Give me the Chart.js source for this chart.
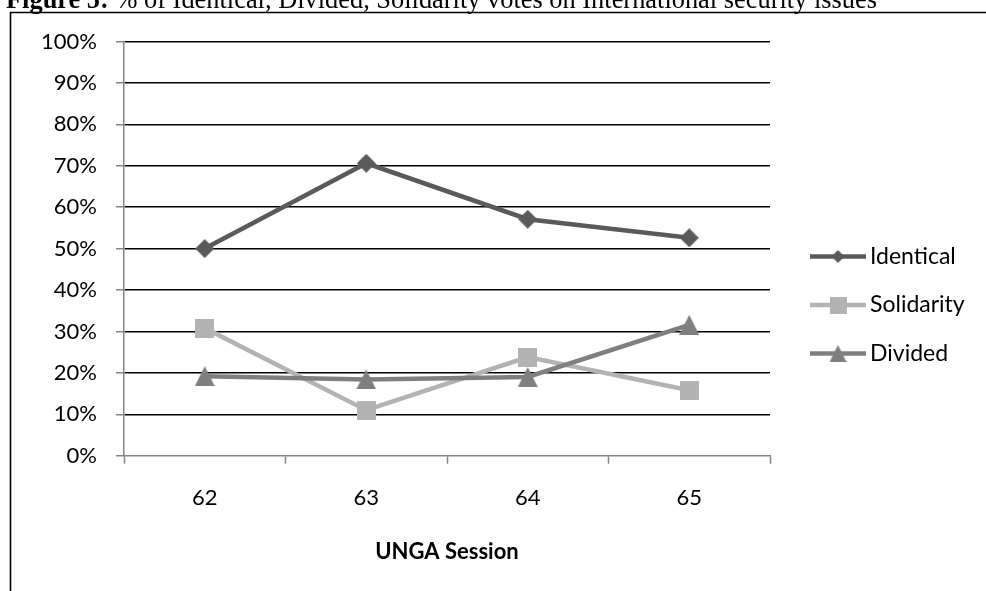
<!DOCTYPE html>
<html>
<head>
<meta charset="utf-8">
<script src="https://cdn.jsdelivr.net/npm/chart.js@4.4.1/dist/chart.umd.min.js"></script>
<style>
  html, body { margin: 0; padding: 0; background: #fff; }
  #wrap { position: relative; width: 986px; height: 591px; overflow: hidden; }
</style>
</head>
<body>
<div id="wrap"><canvas id="c" width="986" height="591"></canvas></div>
<script>
// Share of votes per UNGA session (percent)
const sessions   = ['62', '63', '64', '65'];
const identical  = [50.0, 70.6, 57.1, 52.6];
const solidarity = [30.8, 11.0, 23.8, 15.8];
const divided    = [19.2, 18.4, 19.0, 31.6];
const seriesNames = ['Identical', 'Solidarity', 'Divided'];

const titleBold = 'Figure 5:';
const titleRest = ' % of Identical, Divided, Solidarity votes on International security issues';
const xAxisTitle = 'UNGA Session';

const FONT = 'Lato, "Noto Sans", sans-serif';
const LABEL_SIZE = 22;
const TITLE_FONT = '"Liberation Serif", "Times New Roman", serif';
const TITLE_SIZE = 26.4;

// Marker glyphs drawn once on small canvases, used as point styles
function marker(shape, fill, s) {
  const c = document.createElement('canvas');
  c.width = s; c.height = s;
  const g = c.getContext('2d');
  g.fillStyle = fill;
  g.beginPath();
  if (shape === 'diamond') {
    g.moveTo(s / 2, 0); g.lineTo(s, s / 2); g.lineTo(s / 2, s); g.lineTo(0, s / 2);
  } else if (shape === 'square') {
    g.rect(0, 0, s, s);
  } else {
    g.moveTo(s / 2, 0); g.lineTo(s, s); g.lineTo(0, s);
  }
  g.closePath();
  g.fill();
  return c;
}

const colors = ['#5a5a5a', '#b3b3b3', '#7f7f7f'];
const plotMarkers = [
  marker('diamond', colors[0], 19),
  marker('square', colors[1], 19),
  marker('triangle', colors[2], 20)
];
const legendMarkers = [
  marker('diamond', colors[0], 13),
  marker('square', colors[1], 17),
  marker('triangle', colors[2], 17)
];

// Page frame and caption above the chart
const framePlugin = {
  id: 'frame',
  beforeDraw(chart) {
    const ctx = chart.ctx;
    ctx.save();
    ctx.fillStyle = '#fff';
    ctx.fillRect(0, 0, chart.width, chart.height);
    ctx.strokeStyle = '#000';
    ctx.lineWidth = 1.6;
    ctx.beginPath();
    ctx.moveTo(10.5, chart.height + 2);
    ctx.lineTo(10.5, 12.5);
    ctx.lineTo(chart.width + 2, 12.5);
    ctx.stroke();

    ctx.fillStyle = '#000';
    ctx.textBaseline = 'alphabetic';
    ctx.textAlign = 'left';
    ctx.font = 'bold ' + TITLE_SIZE + 'px ' + TITLE_FONT;
    ctx.fillText(titleBold, 6, 8);
    const w = ctx.measureText(titleBold).width;
    ctx.font = TITLE_SIZE + 'px ' + TITLE_FONT;
    ctx.fillText(titleRest, 6 + w, 8);
    ctx.restore();
  }
};

// Legend: line segment with centred marker, then the series name
const legendPlugin = {
  id: 'lineLegend',
  afterDraw(chart) {
    const ctx = chart.ctx;
    ctx.save();
    chart.data.datasets.forEach((ds, i) => {
      const y = 256.5 + i * 48.5;
      ctx.strokeStyle = ds.borderColor;
      ctx.lineWidth = 4.5;
      ctx.beginPath();
      ctx.moveTo(810, y);
      ctx.lineTo(866, y);
      ctx.stroke();
      const m = legendMarkers[i];
      ctx.drawImage(m, 838 - m.width / 2, y - m.height / 2);
      ctx.fillStyle = '#000';
      ctx.font = '23px ' + FONT;
      ctx.textBaseline = 'middle';
      ctx.textAlign = 'left';
      ctx.fillText(ds.label, 870, y);
    });
    ctx.restore();
  }
};

const values = [identical, solidarity, divided];

new Chart(document.getElementById('c'), {
  type: 'line',
  data: {
    labels: sessions,
    datasets: values.map((v, i) => ({
      label: seriesNames[i],
      data: v,
      borderColor: colors[i],
      backgroundColor: colors[i],
      borderWidth: 4.5,
      tension: 0,
      fill: false,
      pointStyle: plotMarkers[i],
      pointRadius: 8,
      pointHoverRadius: 8,
      order: 3 - i
    }))
  },
  options: {
    responsive: false,
    animation: false,
    events: [],
    layout: { padding: { left: 10, right: 216, top: 41.5, bottom: 0 } },
    plugins: {
      legend: { display: false },
      tooltip: { enabled: false },
      title: { display: false }
    },
    scales: {
      x: {
        offset: true,
        grid: {
          offset: true,
          drawOnChartArea: false,
          drawTicks: true,
          tickLength: 8,
          tickWidth: 1.5,
          tickColor: '#868686',
          color: '#868686'
        },
        border: { display: true, color: '#868686', width: 1.5 },
        ticks: { padding: 21, color: '#000', font: { family: FONT, size: LABEL_SIZE } },
        title: {
          display: true,
          text: xAxisTitle,
          color: '#000',
          font: { family: FONT, size: LABEL_SIZE, weight: 'bold' },
          padding: { top: 0, bottom: 26 }
        },
        afterFit(scale) { scale.height = 135.3; }
      },
      y: {
        min: 0,
        max: 100,
        ticks: {
          stepSize: 10,
          padding: 19,
          color: '#000',
          font: { family: FONT, size: LABEL_SIZE },
          callback: v => v + '%'
        },
        grid: {
          color: c => (c.tick && c.tick.value === 0) ? 'rgba(0,0,0,0)' : '#000',
          lineWidth: 1.5,
          tickLength: 8,
          tickWidth: 1.5,
          tickColor: '#868686'
        },
        border: { display: true, color: '#868686', width: 1.5 },
        afterFit(scale) { scale.width = 114; }
      }
    }
  },
  plugins: [framePlugin, legendPlugin]
});
</script>
</body>
</html>
